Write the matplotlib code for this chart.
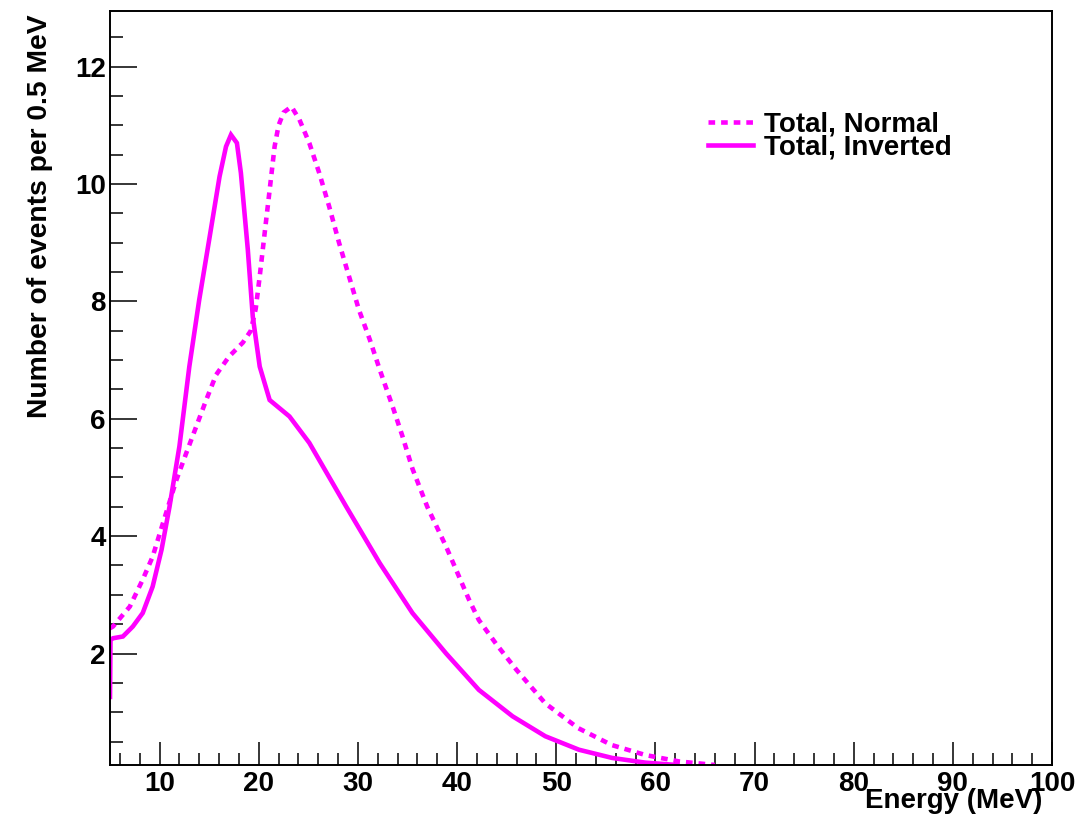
import matplotlib
matplotlib.use("Agg")
import matplotlib.pyplot as plt
from matplotlib.ticker import MultipleLocator

plt.rcParams['font.family'] = ['Liberation Sans', 'DejaVu Sans']
plt.rcParams['font.weight'] = 'bold'

# Total event spectrum, normal hierarchy (MeV, events per 0.5 MeV)
energy_normal = [5.0, 5.3, 6.0, 7.0, 8.3, 9.3, 10.3, 11.7, 12.7, 13.7, 14.7, 15.7,
                 17.0, 18.4, 19.2, 19.7, 20.1, 20.6, 21.1, 21.6, 22.0, 22.5, 23.3,
                 24.1, 25.1, 26.1, 27.1, 28.1, 29.1, 30.1, 31.2, 32.2, 33.5, 34.5,
                 35.5, 37.0, 38.9, 41.2, 42.2, 44.0, 46.0, 48.9, 52.2, 55.6, 59.0,
                 62.4, 66.0]
events_normal = [2.43, 2.46, 2.60, 2.80, 3.26, 3.65, 4.20, 4.96, 5.42, 5.87, 6.32, 6.75,
                 7.06, 7.30, 7.50, 7.88, 8.43, 9.17, 9.90, 10.64, 11.00, 11.22, 11.32,
                 11.10, 10.70, 10.19, 9.62, 9.00, 8.43, 7.86, 7.35, 6.84, 6.21, 5.70,
                 5.15, 4.50, 3.82, 2.92, 2.57, 2.15, 1.72, 1.15, 0.73, 0.44, 0.27,
                 0.16, 0.10]

# Total event spectrum, inverted hierarchy
energy_inverted = [5.0, 5.05, 5.3, 6.3, 7.3, 8.3, 9.3, 10.2, 11.0, 12.0, 13.0, 14.0,
                   15.0, 16.05, 16.7, 17.2, 17.8, 18.2, 18.9, 19.4, 20.1, 21.1, 22.1,
                   23.1, 25.1, 28.8, 32.2, 35.5, 38.9, 42.2, 45.6, 48.9, 52.3, 55.65,
                   59.0, 62.2]
events_inverted = [1.26, 2.23, 2.26, 2.29, 2.46, 2.69, 3.14, 3.77, 4.50, 5.53, 6.89, 8.03,
                   9.05, 10.13, 10.64, 10.84, 10.70, 10.19, 8.88, 7.74, 6.89, 6.32, 6.18,
                   6.04, 5.59, 4.51, 3.54, 2.69, 2.00, 1.38, 0.93, 0.59, 0.36, 0.22,
                   0.14, 0.10]

magenta = '#ff00ff'

fig = plt.figure(figsize=(10.89, 8.21), dpi=100)
ax = fig.add_axes([110 / 1089, 1 - 765 / 821, 942 / 1089, 754 / 821])

ax.plot(energy_normal, events_normal, color=magenta, lw=3.3,
        linestyle=(0, (1.45, 1.3)), dash_capstyle='butt', label='Total, Normal')
ax.plot(energy_inverted, events_inverted, color=magenta, lw=3.3,
        solid_joinstyle='miter', label='Total, Inverted')

ax.set_xlim(5, 100)
ax.set_ylim(0.1, 12.95)

ax.xaxis.set_major_locator(MultipleLocator(10))
ax.xaxis.set_minor_locator(MultipleLocator(2))
ax.yaxis.set_major_locator(MultipleLocator(2))
ax.yaxis.set_minor_locator(MultipleLocator(0.5))

ax.tick_params(axis='x', which='major', direction='in', length=16.5, width=1.1,
               labelsize=20, pad=4, top=False)
ax.tick_params(axis='x', which='minor', direction='in', length=8.6, width=1.1, top=False)
ax.tick_params(axis='y', which='major', direction='in', length=19.4, width=1.1,
               labelsize=20, pad=3, right=False)
ax.tick_params(axis='y', which='minor', direction='in', length=9.4, width=1.1, right=False)
for lab in ax.get_xticklabels() + ax.get_yticklabels():
    lab.set_fontweight('bold')
for sp in ax.spines.values():
    sp.set_linewidth(1.4)

ax.set_xlabel('Energy (MeV)', fontsize=20, fontweight='bold', loc='right')
ax.xaxis.set_label_coords(0.990, -0.030)
ax.set_ylabel('Number of events per 0.5 MeV', fontsize=20.3, fontweight='bold', loc='top')
ax.yaxis.set_label_coords(-0.061, 0.995)

leg = ax.legend(loc='upper left', bbox_to_anchor=((708 - 110) / 942, 1 - (112 - 11) / 754),
                frameon=False, fontsize=20, handlelength=1.62, handletextpad=0.4,
                labelspacing=-0.12, borderpad=0, borderaxespad=0)
for t in leg.get_texts():
    t.set_fontweight('bold')

fig.savefig('out.png', dpi=100)
